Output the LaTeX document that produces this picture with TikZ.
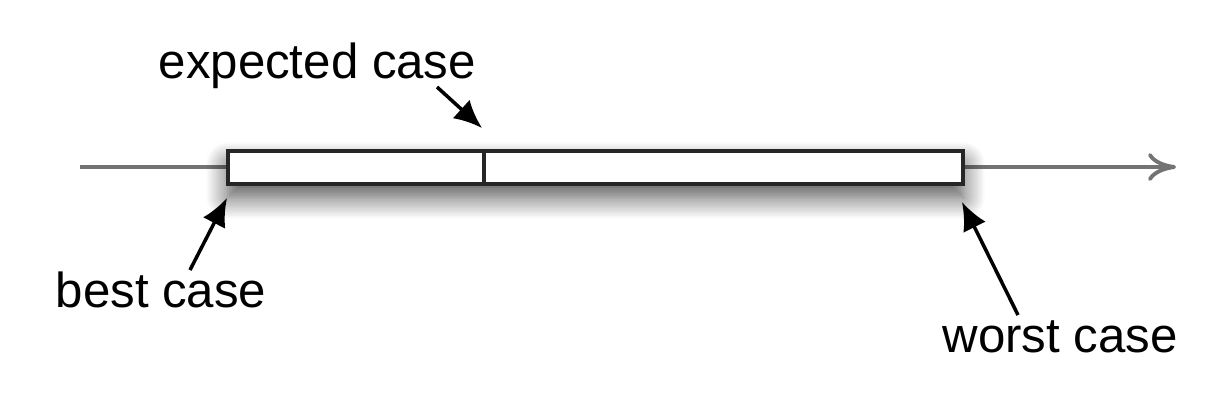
\documentclass[tikz,border=0pt]{standalone}
\usepackage{fontspec}
\setmainfont{Liberation Sans}
\usetikzlibrary{arrows.meta,shadows.blur}
\definecolor{axisgray}{rgb}{0.45,0.45,0.45}

\begin{document}
\begin{tikzpicture}[font=\fontsize{14pt}{17pt}\selectfont]
  \useasboundingbox (0,0) rectangle (12.28,4);
  % axis:
  \coordinate (start) at (0.80,2.33);
  \coordinate (end) at (11.76,2.33);
  \draw[axisgray,line width=1.1pt,-{To[length=2.8mm,width=2.8mm]}] (start) -- (end);

  % the bar:
  \node[draw=black!85,line width=1pt,fill=white,minimum width=7.35cm,minimum height=0.33cm,inner sep=0pt,
        blur shadow={shadow xshift=0pt,shadow yshift=-0.13cm,shadow blur radius=0.22cm,
                     shadow blur steps=14,shadow opacity=70}]
        (bar) at (5.955,2.325) {};
  \coordinate (split) at (4.84,2.49);
  \draw[black!85,line width=1pt] (split) -- (split |- bar.south);

  \node[anchor=base west,inner sep=0pt] (expected) at (1.58,3.22) {expected case};
  \node[anchor=base west,inner sep=0pt] (best) at (0.55,0.93) {best case};
  \node[anchor=base west,inner sep=0pt] (worst) at (9.42,0.48) {worst case};

  \coordinate (expfrom) at (4.37,3.13);
  \coordinate (expto) at (4.82,2.72);
  \coordinate (bestfrom) at (1.90,1.30);
  \coordinate (bestto) at (2.27,2.02);
  \coordinate (worstfrom) at (10.18,0.85);
  \coordinate (worstto) at (9.62,1.98);

  \begin{scope}[line width=1pt,>={Latex[length=2.8mm,width=2.5mm]}]
      \draw[->] (expfrom) -- (expto);
      \draw[->] (bestfrom) -- (bestto);
      \draw[->] (worstfrom) -- (worstto);
  \end{scope}
\end{tikzpicture}
\end{document}
